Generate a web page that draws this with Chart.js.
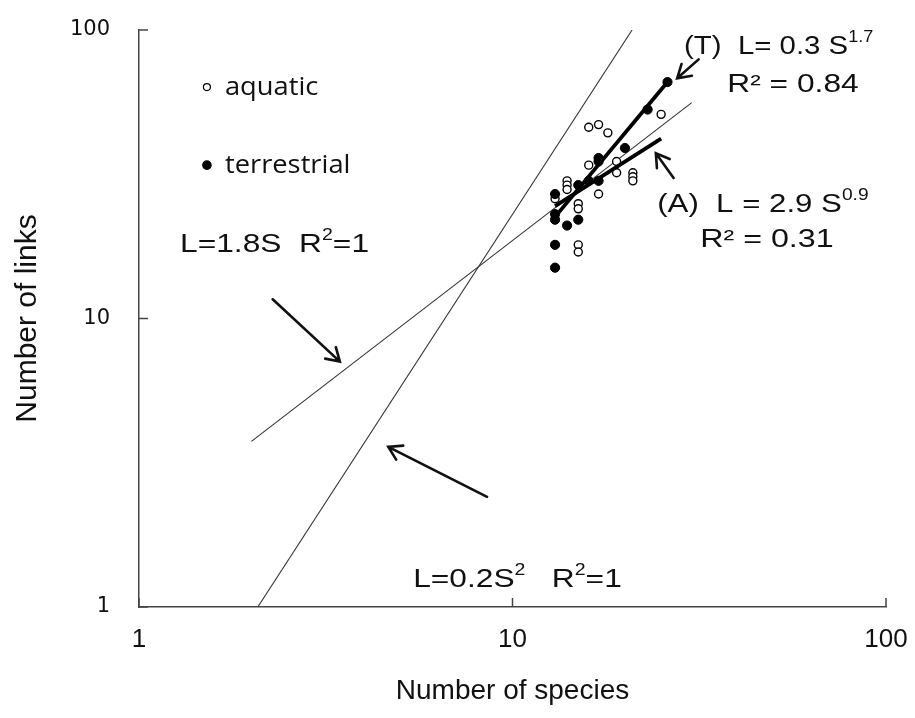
<!DOCTYPE html>
<html>
<head>
<meta charset="utf-8">
<script src="https://cdn.jsdelivr.net/npm/chart.js@4.4.0/dist/chart.umd.min.js"></script>
<style>
    html, body { margin: 0; padding: 0; background: #fff; }
</style>
</head>
<body>
<canvas id="myChart" width="915" height="718"></canvas>
<script>
// food webs: number of species (S) and number of links (L)
const aquaticS = [13, 14, 14, 14, 15, 15, 15, 15, 16, 16, 17, 17, 18, 19, 19, 21, 21, 21, 25];
const aquaticL = [26, 30, 29, 28, 25, 24, 18, 17, 46, 34, 47, 27, 44, 35, 32, 32, 31, 30, 51];
const terrestrialS = [13, 13, 13, 13, 13, 14, 15, 15, 16, 17, 17, 17, 20, 23, 26];
const terrestrialL = [15, 18, 22, 23, 27, 21, 22, 29, 30, 30, 36, 35, 39, 53, 66];

// fitted lines, given by their two end points
const line18S = [2, 30.2];
const line18L = [3.75, 56];
const line02S = [2.08, 20.9];
const line02L = [1, 100];
const lineTS = [13, 26];
const lineTL = [22.5, 66];
const lineAS = [13, 25];
const lineAL = [24.5, 42];

const xTicks = [1, 10, 100];
const yTicks = [1, 10, 100];

const toPoints = (xs, ys) => xs.map((x, i) => ({x: x, y: ys[i]}));

// labels and arrows, placed in data units (S, L)
const notes = [
    {s: 28.8, l: 87.3, sx: 1.13, parts: [['(T)  L= 0.3 S', 0], ['1.7', 1]]},
    {s: 37.6, l: 64.5, sx: 1.22, parts: [['R² = 0.84', 0]]},
    {s: 24.4, l: 24.7, sx: 1.2, parts: [['(A)  L = 2.9 S', 0], ['0.9', 1]]},
    {s: 31.8, l: 18.7, sx: 1.24, parts: [['R² = 0.31', 0]]},
    {s: 1.288, l: 18.0, sx: 1.22, parts: [['L=1.8S  R', 0], ['2', 1], ['=1', 0]]},
    {s: 5.42, l: 1.24, sx: 1.22, parts: [['L=0.2S', 0], ['2', 1], ['   R', 0], ['2', 1], ['=1', 0]]}
];
const arrows = [
    {from: [31.5, 79.1], to: [27.6, 68.0]},
    {from: [27.0, 30.7], to: [24.2, 37.4]},
    {from: [2.28, 11.66], to: [3.45, 7.09]},
    {from: [8.55, 2.41], to: [4.65, 3.59]}
];
const legendItems = [
    {s: 1.52, l: 63.4, label: 'aquatic', filled: false},
    {s: 1.52, l: 34.0, label: 'terrestrial', filled: true}
];

function drawRich(ctx, x, y, parts, size, sx) {
    ctx.save();
    ctx.translate(x, y);
    ctx.scale(sx, 1);
    ctx.textBaseline = 'middle';
    ctx.textAlign = 'left';
    ctx.fillStyle = '#111';
    let cx = 0;
    parts.forEach(([t, sup]) => {
        let fs = sup ? Math.round(size * 0.62) : size;
        ctx.font = fs + 'px "Liberation Sans", Arial, sans-serif';
        ctx.fillText(t, cx, sup ? -size * 0.36 : 0);
        cx += ctx.measureText(t).width;
    });
    ctx.restore();
}

function drawArrow(ctx, x0, y0, x1, y1) {
    const a = Math.atan2(y1 - y0, x1 - x0);
    const h = 15, w = 0.55;
    ctx.beginPath();
    ctx.moveTo(x0, y0);
    ctx.lineTo(x1, y1);
    ctx.moveTo(x1 - h * Math.cos(a - w), y1 - h * Math.sin(a - w));
    ctx.lineTo(x1, y1);
    ctx.lineTo(x1 - h * Math.cos(a + w), y1 - h * Math.sin(a + w));
    ctx.stroke();
}

const extras = {
    id: 'extras',
    afterDatasetsDraw: function (chart) {
        const ctx = chart.ctx;
        const xs = chart.scales.x, ys = chart.scales.y;
        const area = chart.chartArea;
        ctx.save();
        // inner tick marks
        ctx.strokeStyle = '#444';
        ctx.lineWidth = 1.5;
        xTicks.forEach(v => {
            let x = xs.getPixelForValue(v);
            ctx.beginPath(); ctx.moveTo(x, area.bottom); ctx.lineTo(x, area.bottom - 9); ctx.stroke();
        });
        yTicks.forEach(v => {
            let y = ys.getPixelForValue(v);
            ctx.beginPath(); ctx.moveTo(area.left, y); ctx.lineTo(area.left + 9, y); ctx.stroke();
        });
        // legend
        legendItems.forEach(item => {
            let x = xs.getPixelForValue(item.s), y = ys.getPixelForValue(item.l);
            ctx.beginPath();
            ctx.arc(x, y, item.filled ? 4.2 : 3.5, 0, Math.PI * 2);
            ctx.fillStyle = item.filled ? '#000' : '#fff';
            ctx.fill();
            ctx.lineWidth = 1.2;
            ctx.strokeStyle = '#000';
            ctx.stroke();
            ctx.save();
            ctx.translate(x + 18, y);
            ctx.scale(1.05, 1);
            ctx.fillStyle = '#111';
            ctx.font = '26px "Open Sans", sans-serif';
            ctx.textBaseline = 'middle';
            ctx.fillText(item.label, 0, 0);
            ctx.restore();
        });
        // arrows
        ctx.strokeStyle = '#111';
        ctx.lineWidth = 2.6;
        ctx.lineCap = 'round';
        ctx.lineJoin = 'miter';
        arrows.forEach(a => {
            drawArrow(ctx, xs.getPixelForValue(a.from[0]), ys.getPixelForValue(a.from[1]),
                xs.getPixelForValue(a.to[0]), ys.getPixelForValue(a.to[1]));
        });
        // equations
        notes.forEach(n => {
            drawRich(ctx, xs.getPixelForValue(n.s), ys.getPixelForValue(n.l), n.parts, 26, n.sx);
        });
        ctx.restore();
    }
};

const ctx = document.getElementById('myChart');
const myChart = new Chart(ctx, {
    type: 'scatter',
    data: {
        datasets: [
            {data: toPoints(lineTS, lineTL), showLine: true, borderColor: '#000', borderWidth: 3.8, pointRadius: 0, order: 0},
            {data: toPoints(lineAS, lineAL), showLine: true, borderColor: '#000', borderWidth: 3.8, pointRadius: 0, order: 0},
            {data: toPoints(terrestrialS, terrestrialL), backgroundColor: '#000', borderColor: '#000', borderWidth: 1, pointRadius: 4.6, order: 1},
            {data: toPoints(aquaticS, aquaticL), backgroundColor: '#fff', borderColor: '#000', borderWidth: 1.4, pointRadius: 4.0, order: 2},
            {data: toPoints(line18S, line18L), showLine: true, borderColor: '#333', borderWidth: 1.1, pointRadius: 0, order: 3},
            {data: toPoints(line02S, line02L), showLine: true, borderColor: '#333', borderWidth: 1.1, pointRadius: 0, order: 3}
        ]
    },
    options: {
        responsive: false,
        animation: false,
        layout: {padding: {left: 0, right: 29, top: 30, bottom: 0}},
        plugins: {legend: {display: false}, tooltip: {enabled: false}},
        scales: {
            x: {
                type: 'logarithmic',
                min: 1,
                max: 100,
                afterBuildTicks: function (scale) { scale.ticks = xTicks.map(v => ({value: v})); },
                afterFit: function (scale) {
                    scale.height = 111;
                    scale.paddingLeft = 0;
                    scale.paddingRight = 0;
                },
                ticks: {
                    padding: 17,
                    color: '#111',
                    font: {family: '"Liberation Sans", Arial, sans-serif', size: 26},
                    callback: v => String(v)
                },
                grid: {display: false, drawTicks: false},
                border: {display: true, color: '#444', width: 1.5},
                title: {
                    display: true,
                    text: 'Number of species',
                    color: '#111',
                    font: {family: '"Liberation Sans", Arial, sans-serif', size: 28},
                    padding: {top: 0, bottom: 10}
                }
            },
            y: {
                type: 'logarithmic',
                min: 1,
                max: 100,
                afterBuildTicks: function (scale) { scale.ticks = yTicks.map(v => ({value: v})); },
                afterFit: function (scale) {
                    scale.width = 139;
                    scale.paddingTop = 0;
                    scale.paddingBottom = 0;
                },
                ticks: {
                    padding: 29,
                    color: '#111',
                    font: {family: '"DejaVu Sans", sans-serif', size: 21},
                    callback: v => String(v)
                },
                grid: {display: false, drawTicks: false},
                border: {display: true, color: '#444', width: 1.5},
                title: {
                    display: true,
                    text: 'Number of links',
                    color: '#111',
                    font: {family: '"Liberation Sans", Arial, sans-serif', size: 30},
                    padding: {top: 10, bottom: 0}
                }
            }
        }
    },
    plugins: [extras]
});
</script>
</body>
</html>
